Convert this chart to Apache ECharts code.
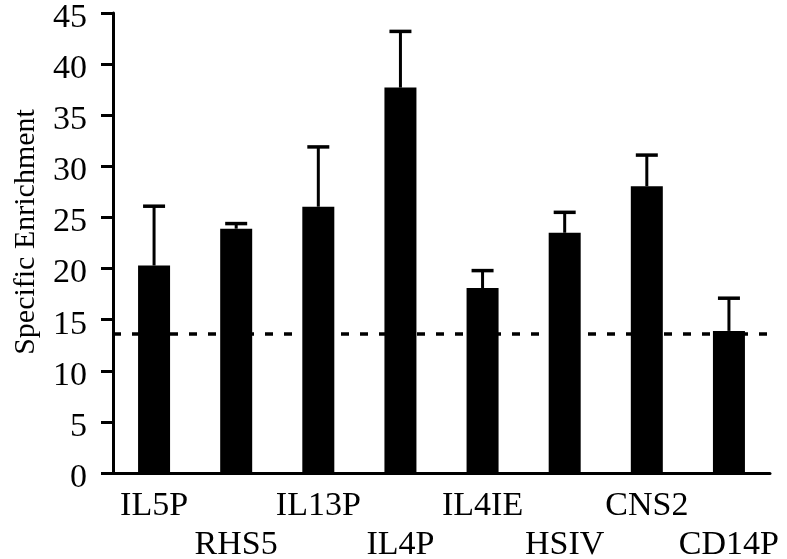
<!DOCTYPE html>
<html>
<head>
<meta charset="utf-8">
<script src="https://cdn.jsdelivr.net/npm/echarts@6/dist/echarts.min.js"></script>
<style>
  html, body { margin: 0; padding: 0; background: #fff; }
  #chart { width: 787px; height: 559px; }
</style>
</head>
<body>
<div id="chart"></div>
<script>
var categories = ['IL5P', 'RHS5', 'IL13P', 'IL4P', 'IL4IE', 'HSIV', 'CNS2', 'CD14P'];
var enrichment = [20.3, 23.9, 26.05, 37.7, 18.1, 23.5, 28.05, 13.9];
var errorTop = [26.1, 24.4, 31.9, 43.2, 19.8, 25.5, 31.1, 17.1];
var threshold = 13.6;

var font = 'Liberation Serif';

var chart = echarts.init(document.getElementById('chart'));

var errData = errorTop.map(function (v, i) {
  return [i, enrichment[i], v];
});

chart.setOption({
  backgroundColor: '#fff',
  animation: false,
  grid: { left: 113, right: 17, top: 13, bottom: 86, outerBoundsMode: 'none' },
  xAxis: {
    type: 'category',
    data: categories,
    axisLine: { lineStyle: { color: '#000', width: 3 } },
    axisTick: { show: false },
    axisLabel: {
      interval: 0,
      color: '#000',
      fontFamily: font,
      fontSize: 34,
      lineHeight: 39,
      margin: 14,
      formatter: function (v, i) {
        return i % 2 === 1 ? '\n' + v : v;
      }
    }
  },
  yAxis: {
    type: 'value',
    min: 0,
    max: 45,
    interval: 5,
    name: 'Specific Enrichment',
    nameLocation: 'middle',
    nameRotate: 90,
    nameGap: 72,
    nameTextStyle: { color: '#000', fontFamily: font, fontSize: 30, padding: [0, 0, 0, 22] },
    axisLine: { show: true, lineStyle: { color: '#000', width: 3 } },
    axisTick: { show: true, length: 12, lineStyle: { color: '#000', width: 3 } },
    axisLabel: { color: '#000', fontFamily: font, fontSize: 34, margin: 26, verticalAlign: 'top', lineHeight: 10 },
    splitLine: { show: false }
  },
  series: [
    {
      type: 'bar',
      data: enrichment,
      barWidth: 32,
      itemStyle: { color: '#000' },
      markLine: {
        silent: true,
        symbol: 'none',
        label: { show: false },
        lineStyle: { color: '#000', width: 3.5, type: [8, 11] },
        data: [{ yAxis: threshold }]
      },
      z: 2
    },
    {
      type: 'custom',
      data: errData,
      z: 3,
      renderItem: function (params, api) {
        var base = api.coord([api.value(0), api.value(1)]);
        var top = api.coord([api.value(0), api.value(2)]);
        var half = 11;
        return {
          type: 'group',
          children: [
            { type: 'line', shape: { x1: top[0], y1: base[1], x2: top[0], y2: top[1] }, style: { stroke: '#000', lineWidth: 3 } },
            { type: 'line', shape: { x1: top[0] - half, y1: top[1], x2: top[0] + half, y2: top[1] }, style: { stroke: '#000', lineWidth: 3.5 } }
          ]
        };
      }
    }
  ]
});
</script>
</body>
</html>
